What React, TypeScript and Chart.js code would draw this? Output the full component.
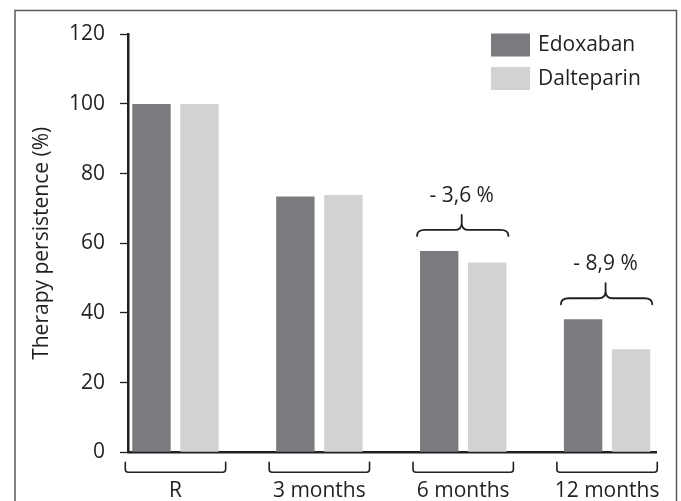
import React, { useEffect, useRef } from 'react';
import { Chart, registerables } from 'chart.js';

Chart.register(...registerables);

// ---- data ----
const categories = ['R', '3 months', '6 months', '12 months'];
const seriesNames = ['Edoxaban', 'Dalteparin'];
const edoxaban = [100, 73.4, 57.8, 38.2];
const dalteparin = [100, 73.9, 54.5, 29.6];
const differenceLabels = ['', '', '- 3,6 %', '- 8,9 %'];
const yTickMin = 0;
const yTickMax = 120;
const yTickStep = 20;
const yTitle = 'Therapy persistence (%)';

// ---- style ----
const FONT = "'Open Sans', sans-serif";
const INK = '#231f20';
const COLORS = ['#7a7b7f', '#d1d2d4'];

const decorations = {
  id: 'decorations',
  beforeDraw(chart: any) {
    const ctx = chart.ctx;
    ctx.save();
    ctx.strokeStyle = '#58595b';
    ctx.lineWidth = 1.5;
    ctx.strokeRect(15, 10.5, 661.5, 600);
    ctx.restore();
  },
  afterDatasetsDraw(chart: any) {
    const ctx = chart.ctx;
    const metaA = chart.getDatasetMeta(0);
    const metaB = chart.getDatasetMeta(1);
    const yScale = chart.scales.y;
    ctx.save();
    ctx.strokeStyle = INK;
    ctx.fillStyle = INK;
    ctx.lineCap = 'round';
    ctx.lineJoin = 'round';
    ctx.font = `21px ${FONT}`;
    ctx.textAlign = 'center';
    ctx.textBaseline = 'middle';
    categories.forEach((_c, i) => {
      const a = metaA.data[i];
      const b = metaB.data[i];
      const left = a.x - a.width / 2;
      const right = b.x + b.width / 2;
      // bracket below the axis
      const bl = left - 7;
      const br = right + 7;
      const top = yScale.bottom + 10;
      const bottom = yScale.bottom + 20;
      ctx.lineWidth = 1.6;
      ctx.beginPath();
      ctx.moveTo(bl, top);
      ctx.lineTo(bl, bottom - 3);
      ctx.quadraticCurveTo(bl, bottom, bl + 3, bottom);
      ctx.lineTo(br - 3, bottom);
      ctx.quadraticCurveTo(br, bottom, br, bottom - 3);
      ctx.lineTo(br, top);
      ctx.stroke();
      // curly brace above the group
      if (differenceLabels[i]) {
        const topPx = Math.min(a.y, b.y);
        const x0 = left - 3;
        const x1 = right + 2;
        const xc = (x0 + x1) / 2 - 1;
        const yEnd = topPx - 15;
        const yH = yEnd - 6;
        const yPeak = yH - 15;
        ctx.lineWidth = 1.8;
        ctx.beginPath();
        ctx.moveTo(x0, yEnd);
        ctx.quadraticCurveTo(x0, yH, x0 + 8, yH);
        ctx.lineTo(xc - 7, yH);
        ctx.quadraticCurveTo(xc, yH, xc, yH - 7);
        ctx.lineTo(xc, yPeak);
        ctx.moveTo(xc, yH - 7);
        ctx.quadraticCurveTo(xc, yH, xc + 7, yH);
        ctx.lineTo(x1 - 8, yH);
        ctx.quadraticCurveTo(x1, yH, x1, yEnd);
        ctx.stroke();
        ctx.fillText(differenceLabels[i], xc, yPeak - 19);
      }
    });
    // legend
    ctx.textAlign = 'left';
    chart.data.datasets.forEach((ds: any, i: number) => {
      const y = 33.5 + i * 33.5;
      ctx.fillStyle = ds.backgroundColor;
      ctx.fillRect(491, y, 39, 23);
      ctx.fillStyle = INK;
      ctx.fillText(ds.label, 538, y + 12);
    });
    ctx.restore();
  },
};

export default function App() {
  const ref = useRef<HTMLCanvasElement>(null);
  useEffect(() => {
    const chart = new Chart(ref.current as HTMLCanvasElement, {
      type: 'bar',
      data: {
        datasets: [
          {
            label: seriesNames[0],
            data: edoxaban.map((v, i) => ({ x: i, y: v })),
            backgroundColor: COLORS[0],
            borderWidth: 0,
            categoryPercentage: 0.667,
            barPercentage: 0.8,
          },
          {
            label: seriesNames[1],
            data: dalteparin.map((v, i) => ({ x: i, y: v })),
            backgroundColor: COLORS[1],
            borderWidth: 0,
            categoryPercentage: 0.667,
            barPercentage: 0.8,
          },
        ],
      } as any,
      options: {
        animation: false,
        responsive: false,
        layout: { padding: { top: 34.3, right: 25, left: 0, bottom: 0 } },
        plugins: { legend: { display: false }, tooltip: { enabled: false } },
        scales: {
          x: {
            type: 'linear',
            offset: false,
            min: -0.33,
            max: 3.34,
            afterBuildTicks: (s: any) => {
              s.ticks = categories.map((_c, i) => ({ value: i }));
            },
            afterFit: (s: any) => {
              s.height = 48.7;
            },
            grid: {
              offset: false,
              drawOnChartArea: false,
              drawTicks: true,
              tickLength: 26,
              tickColor: 'rgba(0,0,0,0)',
            },
            border: { display: true, color: INK, width: 2.5 },
            ticks: {
              padding: 0,
              autoSkip: false,
              maxRotation: 0,
              color: INK,
              font: { family: FONT, size: 21 },
              callback: (v: any) => categories[Number(v)] ?? '',
            },
          },
          y: {
            min: yTickMin,
            max: yTickMax,
            afterFit: (s: any) => {
              s.width = 128;
            },
            ticks: {
              stepSize: yTickStep,
              padding: 15,
              color: INK,
              font: { family: FONT, size: 21 },
            },
            grid: {
              drawOnChartArea: false,
              tickLength: 8,
              tickColor: INK,
              tickWidth: 1.3,
            },
            border: { display: true, color: INK, width: 2.5 },
            title: {
              display: true,
              text: yTitle,
              color: INK,
              font: { family: FONT, size: 21 },
              padding: { top: 29, bottom: 0 },
            },
          },
        },
      } as any,
      plugins: [decorations],
    });
    return () => chart.destroy();
  }, []);
  return (
    <div style={{ position: 'absolute', left: 0, top: 0, width: 681, height: 501, background: '#fff' }}>
      <canvas ref={ref} width={681} height={501} style={{ display: 'block', width: 681, height: 501 }} />
    </div>
  );
}
